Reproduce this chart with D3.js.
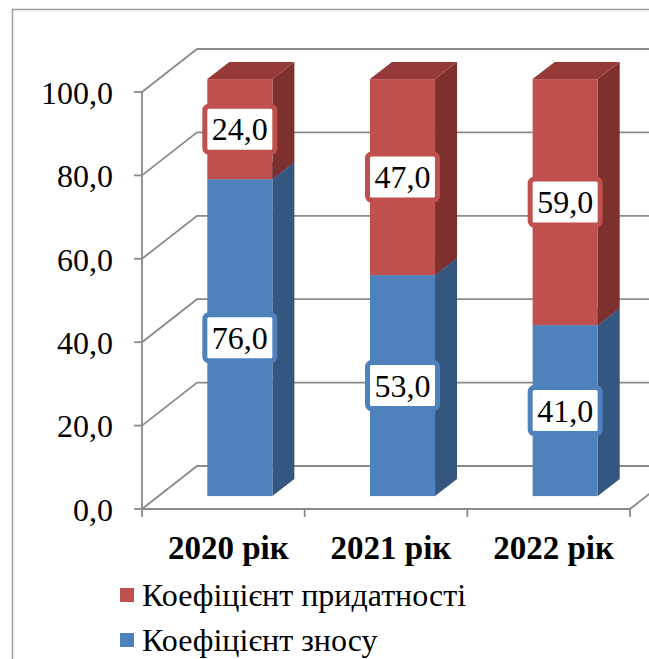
<!DOCTYPE html>
<html>
<head>
<meta charset="utf-8">
<script src="https://cdn.jsdelivr.net/npm/d3@7"></script>
<style>
  html, body { margin: 0; padding: 0; background: #fff; }
  svg { display: block; }
</style>
</head>
<body>
<div id="chart"></div>
<script>
// chart data
const categories = ["2020 рік", "2021 рік", "2022 рік"];
const wearValues = [76.0, 53.0, 41.0];       // Коефіцієнт зносу
const fitnessValues = [24.0, 47.0, 59.0];    // Коефіцієнт придатності
const yTicks = [0, 20, 40, 60, 80, 100];
const seriesNames = ["Коефіцієнт придатності", "Коефіцієнт зносу"];

const W = 649, H = 659;
const FONT = '"Liberation Serif"';
const fmt = v => d3.format(".1f")(v).replace(".", ",");

// 3d layout
const x0 = 142, x1 = 630;
const depth = { dx: 55, dy: -43 };
const barFront = 0.3, barBack = 0.7;

const svg = d3.select("#chart").append("svg")
    .attr("width", W)
    .attr("height", H);

// outer frame (cropped at right / bottom)
svg.append("path")
    .attr("d", `M12.5,${H + 5} V9.5 H${W + 5}`)
    .attr("fill", "none")
    .attr("stroke", "#a0a0a0")
    .attr("stroke-width", 1.5);

const y = d3.scaleLinear().domain([0, 100]).range([509, 92]);
const xBand = d3.scaleBand().domain(categories).range([x0, x1]).paddingInner(0.6).paddingOuter(0.3);
const xCat = d3.scaleBand().domain(categories).range([x0, x1]).padding(0);

const gridColor = "#8a8a8a";
const grid = svg.append("g").attr("fill", "none").attr("stroke", gridColor).attr("stroke-width", 1.8);

// left wall diagonals + back wall horizontals
yTicks.forEach(t => {
    const yy = y(t);
    grid.append("path")
        .attr("d", `M${x0},${yy} L${x0 + depth.dx},${yy + depth.dy} L${x1 + depth.dx},${yy + depth.dy}`);
});
// right side of floor
grid.append("path").attr("d", `M${x1},${y(0)} L${x1 + depth.dx},${y(0) + depth.dy}`);

// front value axis
grid.append("path").attr("d", `M${x0},${y(100)} V${y(0)}`);
yTicks.forEach(t => {
    grid.append("path").attr("d", `M${x0 - 8},${y(t)} H${x0}`);
});
// front category axis
grid.append("path").attr("d", `M${x0},${y(0)} H${x1}`);
const catEdges = categories.map(c => xCat(c)).concat([x1]);
catEdges.forEach(xx => {
    grid.append("path").attr("d", `M${xx},${y(0)} V${y(0) + 8}`);
});

// value axis labels
svg.append("g").selectAll("text")
    .data(yTicks)
    .join("text")
    .attr("x", 113)
    .attr("y", d => y(d))
    .attr("dy", "0.37em")
    .attr("text-anchor", "end")
    .style("font-family", FONT)
    .attr("font-size", 32)
    .attr("fill", "#000")
    .text(d => fmt(d));

// category labels
svg.append("g").selectAll("text")
    .data(categories)
    .join("text")
    .attr("x", d => xCat(d) + xCat.bandwidth() / 2 + 5)
    .attr("y", y(0) + 50)
    .attr("text-anchor", "middle")
    .style("font-family", FONT)
    .attr("font-size", 33)
    .attr("font-weight", "bold")
    .attr("fill", "#000")
    .text(d => d);

// bars
const colors = {
    wear: { front: "#4f81bd", top: "#3f6899", side: "#34567f" },
    fit: { front: "#c0504d", top: "#953a38", side: "#7e302e" }
};

const fdx = depth.dx * barFront, fdy = depth.dy * barFront;
const bdx = depth.dx * (barBack - barFront), bdy = depth.dy * (barBack - barFront);

const segments = [];
categories.forEach((c, i) => {
    segments.push({ cat: c, lo: 0, hi: wearValues[i], v: wearValues[i], col: colors.wear });
    segments.push({ cat: c, lo: wearValues[i], hi: wearValues[i] + fitnessValues[i], v: fitnessValues[i], col: colors.fit });
});

const bars = svg.append("g");
segments.forEach(s => {
    const xl = xBand(s.cat) + fdx;
    const xr = xl + xBand.bandwidth();
    const yb = y(s.lo) + fdy;
    const yt = y(s.hi) + fdy;
    const g = bars.append("g");
    // side
    g.append("path")
        .attr("d", `M${xr},${yb} L${xr + bdx},${yb + bdy} L${xr + bdx},${yt + bdy} L${xr},${yt} Z`)
        .attr("fill", s.col.side);
    // top
    g.append("path")
        .attr("d", `M${xl},${yt} L${xr},${yt} L${xr + bdx},${yt + bdy} L${xl + bdx},${yt + bdy} Z`)
        .attr("fill", s.col.top);
    // front
    g.append("rect")
        .attr("x", xl).attr("y", yt)
        .attr("width", xr - xl).attr("height", yb - yt)
        .attr("fill", s.col.front);
});

// data labels
const labels = svg.append("g");
segments.forEach(s => {
    const cx = xBand(s.cat) + fdx + xBand.bandwidth() / 2;
    const cy = y((s.lo + s.hi) / 2) + fdy;
    const g = labels.append("g");
    const box = g.append("rect");
    const txt = g.append("text")
        .attr("x", cx)
        .attr("y", cy)
        .attr("dy", "0.35em")
        .attr("text-anchor", "middle")
        .style("font-family", FONT)
        .attr("font-size", 32)
        .attr("fill", "#000")
        .text(fmt(s.v));
    const tw = txt.node().getComputedTextLength();
    const bw = tw + 14, bh = 46;
    box.attr("x", cx - bw / 2).attr("y", cy - bh / 2)
        .attr("width", bw).attr("height", bh)
        .attr("rx", 4)
        .attr("fill", "#fff")
        .attr("stroke", s.col.front)
        .attr("stroke-width", 5);
});

// legend
const legend = svg.append("g");
const legendItems = [
    { name: seriesNames[0], color: colors.fit.front },
    { name: seriesNames[1], color: colors.wear.front }
];
legendItems.forEach((d, i) => {
    const ly = 606 + i * 45;
    legend.append("rect")
        .attr("x", 120).attr("y", ly - 18)
        .attr("width", 14).attr("height", 14)
        .attr("fill", d.color);
    legend.append("text")
        .attr("x", 142)
        .attr("y", ly)
        .style("font-family", FONT)
        .attr("font-size", 32)
        .attr("fill", "#000")
        .text(d.name);
});
</script>
</body>
</html>
